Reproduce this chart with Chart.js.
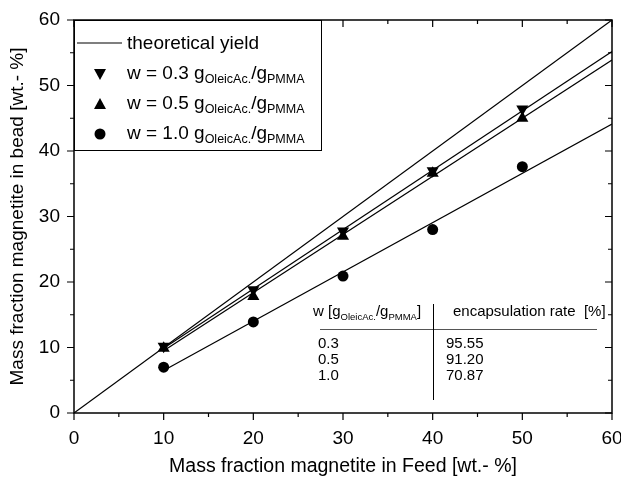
<!DOCTYPE html>
<html>
<head>
<meta charset="utf-8">
<script src="https://cdn.jsdelivr.net/npm/chart.js@4.4.1/dist/chart.umd.min.js"></script>
<style>
  html, body { margin: 0; padding: 0; background: #fff; }
  #wrap { width: 621px; height: 480px; }
</style>
</head>
<body>
<div id="wrap"><canvas id="chartYield"></canvas></div>
<script>
const feed = [10, 20, 30, 40, 50];
const bead03 = [10.2, 18.8, 27.8, 37.0, 46.4];
const bead05 = [9.9, 17.8, 27.0, 36.6, 45.0];
const bead10 = [7.0, 13.9, 20.9, 28.0, 37.6];

// fitted lines, read at both ends
const fitX = [10, 60];
const fit03 = [9.9, 55.2];
const fit05 = [9.5, 53.9];
const fit10 = [6.5, 44.1];
const theoX = [0, 60];
const theoY = [0, 60];

const xTickValues = [0, 10, 20, 30, 40, 50, 60];
const yTickValues = [0, 10, 20, 30, 40, 50, 60];

const tableW = ["0.3", "0.5", "1.0"];
const tableRate = ["95.55", "91.20", "70.87"];

const FONT = "'Liberation Sans', Arial, sans-serif";

function pts(xs, ys) {
    return xs.map((x, i) => ({ x: x, y: ys[i] }));
}

function lineSet(xs, ys) {
    return {
        type: 'line',
        data: pts(xs, ys),
        borderColor: "#000",
        borderWidth: 1.2,
        pointRadius: 0,
        fill: false
    };
}

function markSet(ys, style, rot, r) {
    return {
        type: 'scatter',
        data: pts(feed, ys),
        pointStyle: style,
        rotation: rot,
        pointRadius: r,
        pointBackgroundColor: "#000",
        pointBorderColor: "#000",
        pointBorderWidth: 0
    };
}

// text with subscripts: parts = [[text, isSub], ...]
function richText(c, parts, x, y, size, subSize, subDrop) {
    c.textAlign = "left";
    c.textBaseline = "alphabetic";
    parts.forEach(p => {
        c.font = (p[1] ? subSize : size) + "px " + FONT;
        c.fillText(p[0], x, p[1] ? y + subDrop : y);
        x += c.measureText(p[0]).width;
    });
    return x;
}

const framePlugin = {
    id: 'frame',
    afterDraw(chart) {
        const c = chart.ctx;
        const a = chart.chartArea;
        const xs = chart.scales.x, ys = chart.scales.y;
        c.save();
        c.strokeStyle = "#000";
        c.fillStyle = "#000";
        c.lineWidth = 1.5;
        c.strokeRect(a.left, a.top, a.right - a.left, a.bottom - a.top);

        // ticks: outside on bottom/left, inside on top/right
        c.lineWidth = 1.2;
        c.beginPath();
        for (let v = 0; v <= 60; v += 5) {
            const len = v % 10 === 0 ? 7 : 4;
            const px = xs.getPixelForValue(v);
            c.moveTo(px, a.bottom); c.lineTo(px, a.bottom + len);
            c.moveTo(px, a.top); c.lineTo(px, a.top + len);
            const py = ys.getPixelForValue(v);
            c.moveTo(a.left - len, py); c.lineTo(a.left, py);
            c.moveTo(a.right, py); c.lineTo(a.right - len, py);
        }
        c.stroke();

        // legend box
        const lx = a.left, ly = a.top, lw = 247, lh = 130;
        c.fillStyle = "#fff";
        c.fillRect(lx, ly, lw, lh);
        c.lineWidth = 1;
        c.strokeRect(lx + 0.5, ly + 0.5, lw, lh);
        c.fillStyle = "#000";
        const rows = [43, 74, 104, 134];
        c.lineWidth = 1.2;
        c.beginPath();
        c.moveTo(lx + 3, rows[0]); c.lineTo(lx + 48, rows[0]);
        c.stroke();
        const mx = lx + 26;
        // triangle down
        c.beginPath();
        c.moveTo(mx - 6, rows[1] - 5); c.lineTo(mx + 6, rows[1] - 5); c.lineTo(mx, rows[1] + 6);
        c.closePath(); c.fill();
        // triangle up
        c.beginPath();
        c.moveTo(mx - 6, rows[2] + 5); c.lineTo(mx + 6, rows[2] + 5); c.lineTo(mx, rows[2] - 6);
        c.closePath(); c.fill();
        c.beginPath();
        c.arc(mx, rows[3], 5.5, 0, Math.PI * 2); c.fill();

        const tx = lx + 53;
        richText(c, [["theoretical yield", false]], tx, rows[0] + 6, 19, 12.5, 3.5);
        ["0.3", "0.5", "1.0"].forEach((w, i) => {
            richText(c, [["w = " + w + " g", false], ["OleicAc.", true], ["/g", false], ["PMMA", true]],
                tx, rows[i + 1] + 5, 19, 12.5, 3.5);
        });

        // encapsulation table
        c.fillStyle = "#000";
        richText(c, [["w [g", false], ["OleicAc.", true], ["/g", false], ["PMMA", true], ["]", false]],
            313, 316, 15, 9.5, 4);
        richText(c, [["encapsulation rate  [%]", false]], 453, 316, 15, 9.5, 4);
        c.strokeStyle = "#555";
        c.lineWidth = 1;
        c.beginPath();
        c.moveTo(320, 329.5); c.lineTo(597, 329.5);
        c.stroke();
        c.strokeStyle = "#000";
        c.beginPath();
        c.moveTo(433.5, 304); c.lineTo(433.5, 400);
        c.stroke();
        tableW.forEach((w, i) => {
            const by = 348 + i * 16;
            richText(c, [[w, false]], 318, by, 15, 9.5, 4);
            richText(c, [[tableRate[i], false]], 446, by, 15, 9.5, 4);
        });
        c.restore();
    }
};

const ctx = document.getElementById('chartYield');

new Chart(ctx, {
    data: {
        datasets: [
            lineSet(theoX, theoY),
            lineSet(fitX, fit03),
            lineSet(fitX, fit05),
            lineSet(fitX, fit10),
            markSet(bead03, 'triangle', 180, 7),
            markSet(bead05, 'triangle', 0, 7),
            markSet(bead10, 'circle', 0, 5.5)
        ]
    },
    plugins: [framePlugin],
    options: {
        responsive: true,
        maintainAspectRatio: false,
        animation: false,
        layout: { padding: { top: 20, right: 9, left: 0, bottom: 0 } },
        plugins: {
            legend: { display: false },
            tooltip: { enabled: false }
        },
        scales: {
            x: {
                type: 'linear',
                min: 0, max: 60,
                afterBuildTicks: s => { s.ticks = xTickValues.map(v => ({ value: v })); },
                afterFit: s => { s.height = 67; s.paddingLeft = 0; s.paddingRight = 0; },
                grid: { display: false, drawTicks: false, tickLength: 0 },
                border: { display: false },
                ticks: { color: "#000", padding: 14, font: { family: FONT, size: 19 } },
                title: {
                    display: true,
                    text: "Mass fraction magnetite in Feed [wt.- %]",
                    color: "#000",
                    font: { family: FONT, size: 19.5 },
                    padding: { top: 0, bottom: 2 }
                }
            },
            y: {
                type: 'linear',
                min: 0, max: 60,
                afterBuildTicks: s => { s.ticks = yTickValues.map(v => ({ value: v })); },
                afterFit: s => { s.width = 74; s.paddingTop = 0; s.paddingBottom = 0; },
                grid: { display: false, drawTicks: false, tickLength: 0 },
                border: { display: false },
                ticks: { color: "#000", padding: 14, font: { family: FONT, size: 19 } },
                title: {
                    display: true,
                    text: "Mass fraction magnetite in bead [wt.- %]",
                    color: "#000",
                    font: { family: FONT, size: 19 },
                    padding: { top: 6, bottom: 0 }
                }
            }
        }
    }
});
</script>
</body>
</html>
